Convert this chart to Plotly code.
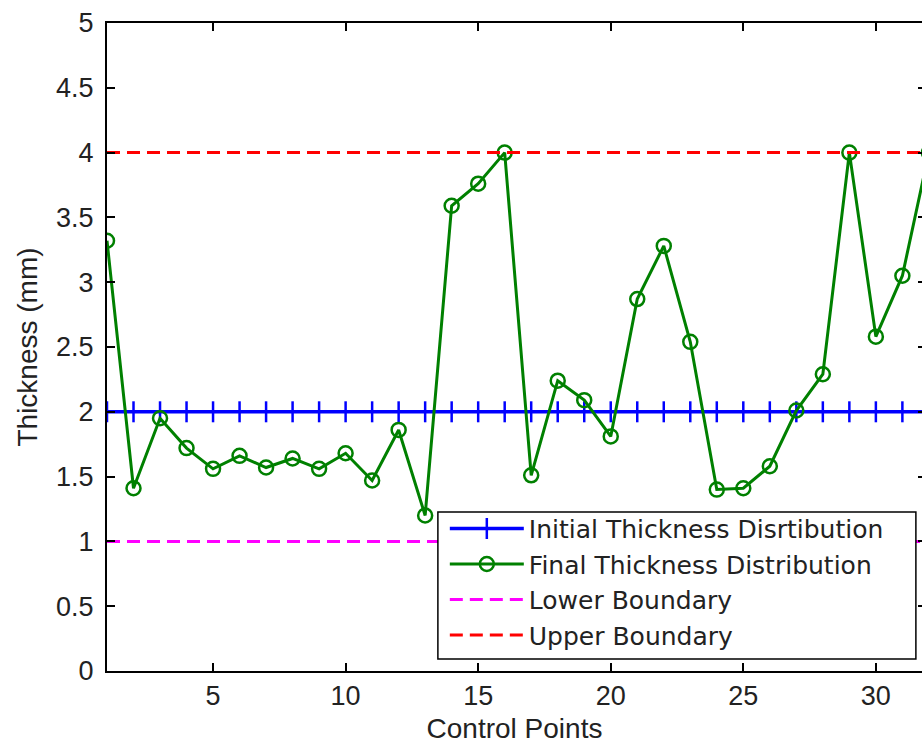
import plotly.graph_objects as go

control_points = list(range(1, 33))
initial_thickness = [2.0] * 32
final_thickness = [3.32, 1.41, 1.95, 1.72, 1.56, 1.66, 1.57, 1.64, 1.56, 1.68,
                   1.47, 1.86, 1.20, 3.59, 3.76, 4.00, 1.51, 2.24, 2.09, 1.81,
                   2.87, 3.28, 2.54, 1.40, 1.41, 1.58, 2.01, 2.29, 4.00, 2.58,
                   3.05, 4.00]
lower_boundary = [1.0] * 32
upper_boundary = [4.0] * 32

y_ticks = [0, 0.5, 1, 1.5, 2, 2.5, 3, 3.5, 4, 4.5, 5]
y_tick_text = ["0", "0.5", "1", "1.5", "2", "2.5", "3", "3.5", "4", "4.5", "5"]
x_ticks = [5, 10, 15, 20, 25, 30]

FONT = "Arial, Liberation Sans, Helvetica, sans-serif"
LEGEND_FONT = "DejaVu Sans, Arial, sans-serif"

fig = go.Figure()
fig.add_trace(go.Scatter(
    x=control_points, y=initial_thickness, mode="lines+markers",
    name="Initial Thickness Disrtibution",
    line=dict(color="#0000ff", width=3.5),
    marker=dict(symbol="line-ns", size=15, line=dict(color="#0000ff", width=2.5)),
))
fig.add_trace(go.Scatter(
    x=control_points, y=final_thickness, mode="lines+markers",
    name="Final Thickness Distribution",
    line=dict(color="#008000", width=3),
    marker=dict(symbol="circle-open", size=14, color="#008000", line=dict(color="#008000", width=2.5)),
))
fig.add_trace(go.Scatter(
    x=control_points, y=lower_boundary, mode="lines",
    name="Lower Boundary",
    line=dict(color="#ff00ff", width=3, dash="13px,7px"),
))
fig.add_trace(go.Scatter(
    x=control_points, y=upper_boundary, mode="lines",
    name="Upper Boundary",
    line=dict(color="#ff0000", width=3, dash="13px,7px"),
))
# invisible helper trace to carry right-side tick marks
fig.add_trace(go.Scatter(x=[control_points[0]], y=[initial_thickness[0]], yaxis="y2",
                         mode="markers", marker=dict(opacity=0), showlegend=False,
                         hoverinfo="skip"))

# legend frame (the legend itself is drawn transparent on top of it)
fig.add_shape(type="rect", xref="paper", yref="paper",
              x0=0.406, x1=0.9925, y0=0.0185, y1=0.2453,
              fillcolor="white", line=dict(color="black", width=1.5), layer="above")

fig.update_layout(
    width=922, height=747,
    margin=dict(l=107, r=0, t=23, b=76),
    paper_bgcolor="white", plot_bgcolor="white",
    font=dict(family=FONT, size=27, color="#222222"),
    showlegend=True,
    legend=dict(
        x=0.4145, y=0.255, xanchor="left", yanchor="top",
        bgcolor="rgba(0,0,0,0)", borderwidth=0,
        font=dict(family=LEGEND_FONT, size=25, color="#222222"),
        itemwidth=74, tracegroupgap=0,
    ),
    xaxis=dict(
        range=[1, 31.74], tickvals=x_ticks, ticks="inside", ticklen=8,
        tickwidth=1.5, tickcolor="black", showline=True, linecolor="black",
        linewidth=2, mirror="ticks", showgrid=False, zeroline=False,
        title=dict(text="Control Points", font=dict(size=28), standoff=8),
        tickfont=dict(size=27),
    ),
    yaxis=dict(
        range=[0, 5], tickvals=y_ticks, ticktext=y_tick_text, ticks="inside",
        ticklen=8, tickwidth=1.5, tickcolor="black", showline=True,
        linecolor="black", linewidth=2, showgrid=False, zeroline=False,
        ticklabelstandoff=6,
        title=dict(text="Thickness (mm)", font=dict(size=28), standoff=10),
        tickfont=dict(size=27),
    ),
    yaxis2=dict(
        range=[0, 5], tickvals=y_ticks, overlaying="y", side="right",
        ticks="inside", ticklen=4, tickwidth=1.5, tickcolor="black",
        showline=False, showticklabels=False, showgrid=False, zeroline=False,
    ),
)

fig.write_html("out.html")
